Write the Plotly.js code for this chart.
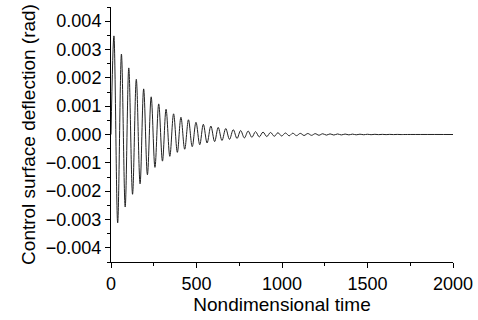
<!DOCTYPE html>
<html><head><meta charset="utf-8">
<script src="https://cdn.plot.ly/plotly-3.0.1.min.js"></script>
<style>html,body{margin:0;padding:0;background:#fff}</style>
</head><body><div id="chart" style="width:478px;height:320px"></div>
<script>
// Extrema (time, deflection in rad)
const peakTimes = [17, 61, 104, 148, 191, 235, 279, 322, 366, 409, 453, 497, 540, 584, 627, 671, 715, 758, 802, 845, 889, 933, 976, 1020, 1063, 1107, 1151, 1194, 1238, 1281, 1325, 1369, 1412, 1456, 1499, 1543, 1587, 1630, 1674];
const peakValues = [0.00348, 0.00284, 0.00235, 0.00195, 0.00161, 0.00133, 0.00108, 0.00089, 0.00073, 0.00061, 0.00052, 0.00043, 0.00036, 0.00030, 0.00025, 0.00021, 0.00017, 0.00014, 0.00012, 0.00010, 0.000085, 0.000072, 0.000062, 0.000053, 0.000046, 0.00004, 0.000035, 0.00003, 0.000026, 0.000022, 0.000019, 0.000016, 0.000013, 0.000011, 0.000009, 0.000007, 0.000005, 0.000004, 0.000003];
const troughTimes = [39, 83, 126, 170, 213, 257, 301, 344, 388, 431, 475, 519, 562, 606, 649, 693, 737, 780, 824, 867, 911, 955, 998, 1042, 1085, 1129, 1173, 1216, 1260, 1303, 1347, 1391, 1434, 1478, 1521, 1565, 1609, 1652, 1696];
const troughValues = [-0.00312, -0.00256, -0.00211, -0.00174, -0.00142, -0.00116, -0.00094, -0.00077, -0.00063, -0.00052, -0.00043, -0.00036, -0.00030, -0.00025, -0.00021, -0.00017, -0.00014, -0.00012, -0.00010, -0.000085, -0.000072, -0.000062, -0.000053, -0.000046, -0.00004, -0.000035, -0.00003, -0.000026, -0.000022, -0.000019, -0.000016, -0.000013, -0.000011, -0.000009, -0.000007, -0.000005, -0.000004, -0.000003, -0.000002];
const startPoint = [0, 0];
const endTimes = [1720, 2000];
const endValues = [0, 0];

const xs = [startPoint[0]], ys = [startPoint[1]];
for (let i = 0; i < peakTimes.length; i++) {
  xs.push(peakTimes[i]); ys.push(peakValues[i]);
  xs.push(troughTimes[i]); ys.push(troughValues[i]);
}
for (let i = 0; i < endTimes.length; i++) { xs.push(endTimes[i]); ys.push(endValues[i]); }

const font = {family: 'Liberation Sans, Arial, sans-serif', size: 18, color: '#000'};
const titleFont = {family: 'Liberation Sans, Arial, sans-serif', size: 19, color: '#000'};
Plotly.newPlot('chart', [{
  x: xs, y: ys, type: 'scatter', mode: 'lines',
  line: {color: '#222', width: 1, shape: 'spline', smoothing: 1},
  hoverinfo: 'skip'
}], {
  width: 478, height: 320,
  margin: {l: 111, r: 25, t: 7, b: 58},
  paper_bgcolor: '#fff', plot_bgcolor: '#fff',
  showlegend: false,
  font: font,
  xaxis: {
    range: [0, 2000], tickvals: [0, 500, 1000, 1500, 2000],
    ticks: 'outside', ticklen: 5, tickwidth: 1, tickcolor: '#000',
    minor: {dtick: 250, tick0: 0, ticks: 'outside', ticklen: 3, tickcolor: '#000'},
    showline: true, linecolor: '#000', linewidth: 1, showgrid: false, zeroline: false,
    tickfont: font,
    title: {text: 'Nondimensional time', font: titleFont, standoff: 3}
  },
  yaxis: {
    range: [-0.0045, 0.0045], dtick: 0.001, tick0: 0, tickformat: '.3f',
    ticks: 'outside', ticklen: 5, tickwidth: 1, tickcolor: '#000',
    minor: {dtick: 0.0005, ticks: 'outside', ticklen: 3, tickcolor: '#000'},
    showline: true, linecolor: '#000', linewidth: 1, showgrid: false, zeroline: false,
    tickfont: font,
    title: {text: 'Control surface deflection (rad)', font: titleFont, standoff: 5}
  }
}, {staticPlot: true, displayModeBar: false});
</script></body></html>
